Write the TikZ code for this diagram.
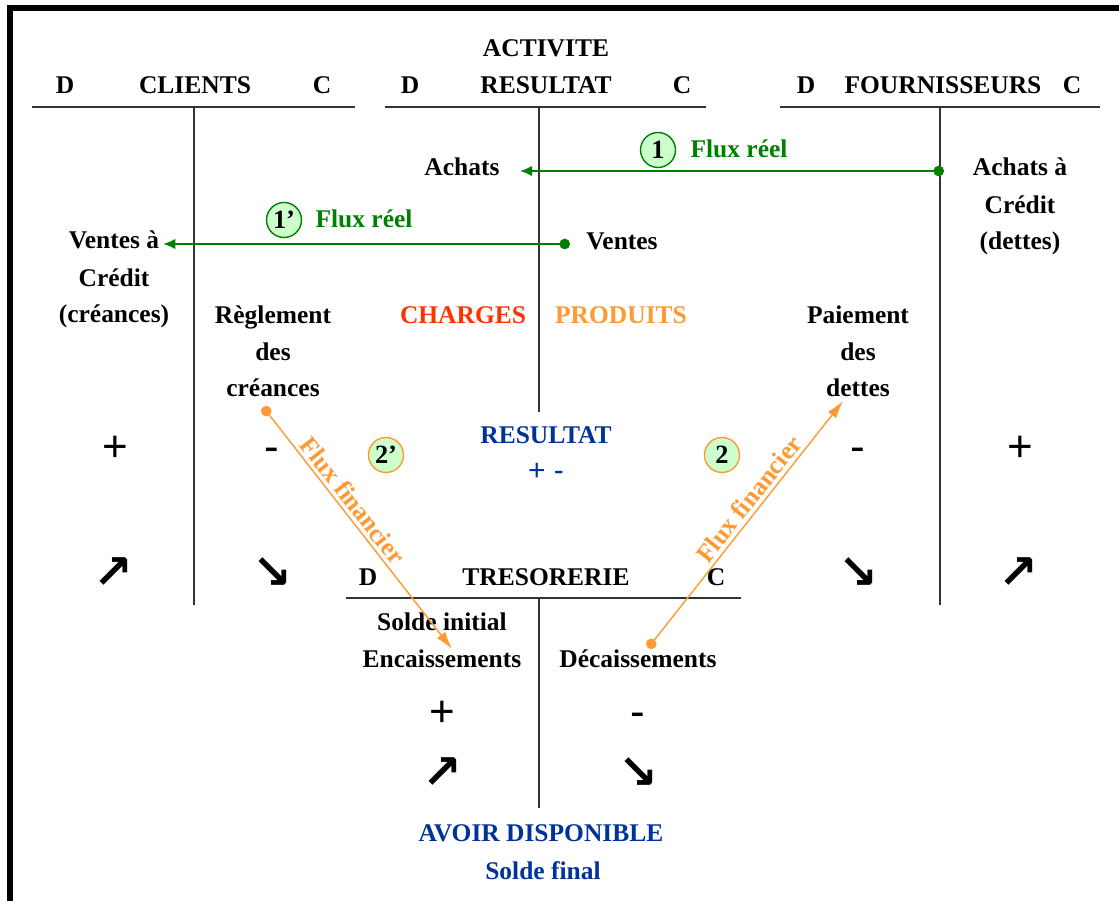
\documentclass[tikz,border=0pt]{standalone}
\usepackage{fontspec}
\setmainfont{Liberation Serif}
\newfontfamily\signefont{Liberation Sans}
\newfontfamily\flechefont{DejaVu Sans}
\usetikzlibrary{arrows.meta}
\definecolor{fluxvert}{RGB}{0,128,0}
\definecolor{vertclair}{RGB}{204,255,204}
\definecolor{orangeflux}{RGB}{255,153,51}
\definecolor{rougecharge}{RGB}{255,51,0}
\definecolor{bleures}{RGB}{0,51,153}

\begin{document}
\begin{tikzpicture}[
  txt/.style={font=\bfseries\fontsize{14.5}{21}\selectfont, inner sep=2pt, anchor=base},
  bloc/.style={txt, align=center},
  compte/.style={draw=black!80, line width=0.8pt},
  signe/.style={font=\signefont\fontsize{25}{25}\selectfont, anchor=base},
  fleche/.style={font=\flechefont\bfseries\fontsize{27}{27}\selectfont},
  numero/.style={circle, draw=#1, fill=vertclair, line width=0.8pt, minimum size=0.7cm, inner sep=0pt, font=\bfseries\fontsize{15}{15}\selectfont},
  reel/.style={draw=fluxvert, line width=1.1pt, {Circle[length=6pt]}-{Latex[length=7pt,width=6pt]}},
  financier/.style={draw=orangeflux, line width=0.8pt, {Circle[length=6pt]}-{Latex[length=10pt,width=6pt]}},
]

\useasboundingbox (0,0) rectangle (22.38,18.02);

% cadre
\draw[line width=3pt] (22.38,17.86) -- (0.2,17.86) -- (0.2,0);

% comptes en T
\draw[compte] (0.64,15.88) -- (7.1,15.88);
\draw[compte] (3.88,15.88) -- (3.88,5.92);

\draw[compte] (7.7,15.88) -- (14.12,15.88);
\draw[compte] (10.78,15.88) -- (10.78,9.78);

\draw[compte] (15.6,15.88) -- (22.0,15.88);
\draw[compte] (18.8,15.88) -- (18.8,5.92);

\draw[compte] (6.92,6.06) -- (14.82,6.06);
\draw[compte] (10.78,6.06) -- (10.78,1.86);

% titres
\node[txt] (dcli) at (1.3,16.14) {D};
\node[txt] (clients) at (3.9,16.14) {CLIENTS};
\node[txt] (ccli) at (6.44,16.14) {C};

\node[txt] (activite) at (10.92,16.88) {ACTIVITE};
\node[txt] (dres) at (8.2,16.14) {D};
\node[txt] (resultatT) at (10.92,16.14) {RESULTAT};
\node[txt] (cres) at (13.64,16.14) {C};

\node[txt] (dfou) at (16.12,16.14) {D};
\node[txt] (fournisseurs) at (18.86,16.14) {FOURNISSEURS};
\node[txt] (cfou) at (21.44,16.14) {C};

\node[txt] (dtre) at (7.36,6.3) {D};
\node[txt] (tresorerie) at (10.92,6.3) {TRESORERIE};
\node[txt] (ctre) at (14.32,6.3) {C};

% contenu des comptes (base = derniere ligne)
\node[txt] (achats) at (9.24,14.5) {Achats};
\node[txt] (ventes) at (12.44,13.02) {Ventes};
\node[txt] (achatsA) at (20.4,14.5) {Achats à};
\node[bloc] (achatsB) at (20.4,13.02) {Crédit\\(dettes)};
\node[txt] (ventesA) at (2.28,13.04) {Ventes à};
\node[bloc] (ventesB) at (2.28,11.56) {Crédit\\(créances)};
\node[bloc] (reglement) at (5.46,10.08) {Règlement\\des\\créances};
\node[bloc] (paiement) at (17.16,10.08) {Paiement\\des\\dettes};
\node[txt, text=rougecharge] (charges) at (9.26,11.54) {CHARGES};
\node[txt, text=orangeflux] (produits) at (12.42,11.54) {PRODUITS};

\node[txt] (soldeinit) at (8.84,5.4) {Solde initial};
\node[txt] (encaiss) at (8.84,4.66) {Encaissements};
\node[txt] (decaiss) at (12.76,4.66) {Décaissements};

% resultat et disponible
\node[txt, text=bleures] (resultat) at (10.92,9.14) {RESULTAT};
\node[font=\signefont\fontsize{17}{17}\selectfont, text=bleures] (plusmoins) at (10.92,8.58) {+ -};
\node[txt, text=bleures] (avoir) at (10.82,1.18) {AVOIR DISPONIBLE};
\node[txt, text=bleures] (soldefin) at (10.86,0.42) {Solde final};

% signes
\node[signe] (pcli) at (2.3,8.78) {+};
\node[signe] (mcli) at (5.44,8.78) {-};
\node[signe] (mfou) at (17.16,8.78) {-};
\node[signe] (pfou) at (20.4,8.78) {+};
\node[signe] (ptre) at (8.84,3.48) {+};
\node[signe] (mtre) at (12.76,3.48) {-};

\node[fleche] (hcli) at (2.26,6.56) {↗};
\node[fleche] (bcli) at (5.44,6.56) {↘};
\node[fleche] (bfou) at (17.16,6.56) {↘};
\node[fleche] (hfou) at (20.36,6.56) {↗};
\node[fleche] (htre) at (8.84,2.56) {↗};
\node[fleche] (btre) at (12.76,2.56) {↘};

% flux reels
\node[numero=fluxvert] (n1) at (13.16,15.02) {1};
\node[txt, text=fluxvert] (fr1) at (14.78,14.86) {Flux réel};
\node[numero=fluxvert] (n1p) at (5.68,13.62) {1'};
\node[txt, text=fluxvert] (fr1p) at (7.28,13.46) {Flux réel};

\coordinate (dot1) at (18.88,14.6);
\coordinate (dot1p) at (11.4,13.14);
\draw[reel] (dot1) -- ([xshift=0.33cm]achats.east |- dot1);
\draw[reel] (dot1p) -- (ventesA.east |- dot1p);

% flux financiers
\node[numero=orangeflux] (n2p) at (7.72,8.92) {2'};
\node[numero=orangeflux] (n2) at (14.44,8.92) {2};

\coordinate (dot2p) at (5.26,9.88);
\coordinate (dot2) at (12.96,5.06);
\draw[financier] (dot2p) -- ([xshift=0.2cm,yshift=-0.05cm]encaiss.north)
  node[txt, text=orangeflux, sloped, above, pos=0.42] (ff2p) {Flux financier};
\draw[financier] (dot2) -- ([xshift=-0.3cm]paiement.south)
  node[txt, text=orangeflux, sloped, above, pos=0.57] (ff2) {Flux financier};

\end{tikzpicture}
\end{document}
